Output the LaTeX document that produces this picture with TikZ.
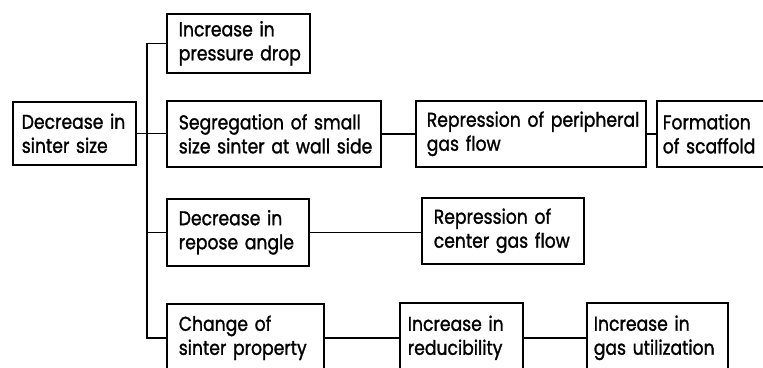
\documentclass[tikz,border=0pt]{standalone}
\usepackage{fontspec}
\newfontfamily\diagfont[FakeStretch=0.86,FakeBold=1.3]{Poppins}
\newcommand\twolines[2]{\mbox{#1}\\\mbox{#2}}
\begin{document}
\begin{tikzpicture}[x=1pt,y=-1pt,
  box/.style={draw, line width=1.6pt, anchor=north west, align=left,
    inner ysep=0pt, font=\diagfont\fontsize{20}{24}\selectfont},
  link/.style={line width=1.6pt}]
\clip (0,0) rectangle (763,367);
\fill[white] (0,0) rectangle (763,367);
\node[box, minimum width=123pt, minimum height=63pt, inner xsep=9pt, text width=105pt] (b1) at (12,101) {\twolines{Decrease in}{sinter size}};
\node[box, minimum width=143pt, minimum height=59pt, inner xsep=12pt, text width=119pt] (b2) at (166,13) {\twolines{Increase in}{pressure drop}};
\node[box, minimum width=214pt, minimum height=66pt, inner xsep=12pt, text width=190pt] (b3) at (166,100) {\twolines{Segregation of small}{size sinter at wall side}};
\node[box, minimum width=230pt, minimum height=66pt, inner xsep=11pt, text width=208pt] (b4) at (415,100) {\twolines{Repression of peripheral}{gas flow}};
\node[box, minimum width=130pt, minimum height=66pt, inner xsep=6pt, text width=118pt] (b5) at (656,100) {\twolines{Formation}{of scaffold}};
\node[box, minimum width=142pt, minimum height=67pt, inner xsep=12pt, text width=118pt] (b6) at (166,198) {\twolines{Decrease in}{repose angle}};
\node[box, minimum width=162pt, minimum height=66pt, inner xsep=12pt, text width=138pt] (b7) at (421,197) {\twolines{Repression of}{center gas flow}};
\node[box, minimum width=157pt, minimum height=68pt, inner xsep=12pt, text width=133pt] (b8) at (166,303) {\twolines{Change of}{sinter property}};
\node[box, minimum width=123pt, minimum height=70pt, inner xsep=8pt, text width=107pt] (b9) at (399,302) {\twolines{Increase in}{reducibility}};
\node[box, minimum width=141pt, minimum height=70pt, inner xsep=7pt, text width=127pt] (b10) at (586,302) {\twolines{Increase in}{gas utilization}};
% trunk
\coordinate (t1) at (147,0);
\draw[link] (b2.west) -| (t1 |- b8.west) -- (b8.west);
\draw[link] (b1.east) -- (b1.east -| b3.west);
\draw[link] (t1 |- b6.west) -- (b6.west);
\draw[link] (b3.east) -- (b3.east -| b4.west);
\draw[link] (b4.east) -- (b4.east -| b5.west);
\draw[link] (b6.east) -- (b6.east -| b7.west);
\draw[link] (b8.east) -- (b8.east -| b9.west);
\draw[link] (b9.east) -- (b9.east -| b10.west);
\end{tikzpicture}
\end{document}
